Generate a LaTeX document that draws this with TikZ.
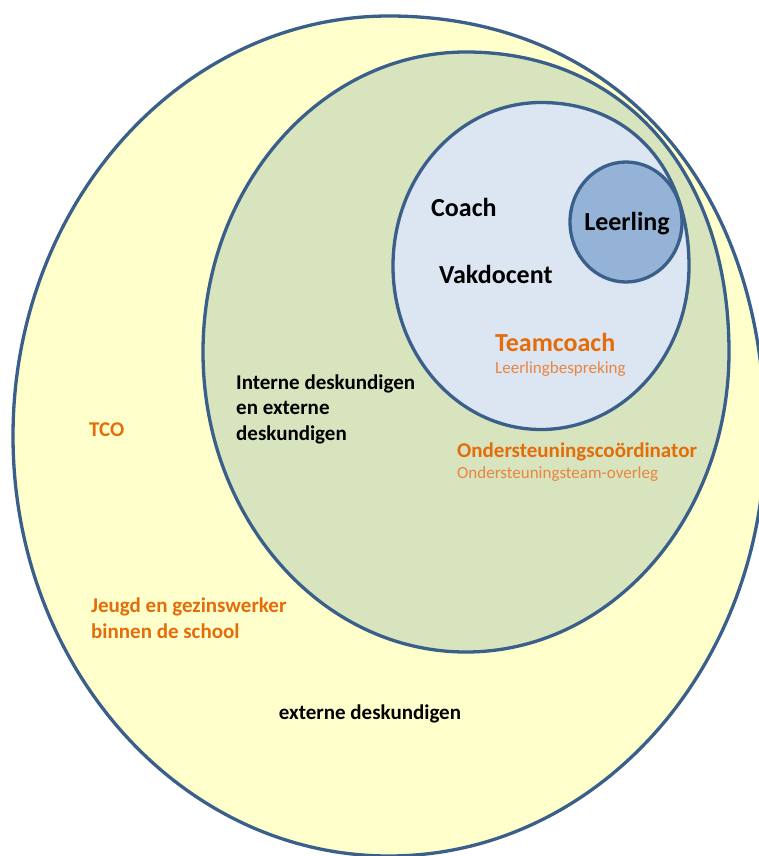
\documentclass[tikz,border=0pt]{standalone}
\usepackage{fontspec}
\setmainfont{Carlito}
\definecolor{ringline}{HTML}{3A5F8B}
\definecolor{zoneyellow}{HTML}{FFFFCC}
\definecolor{zonegreen}{HTML}{D7E4BD}
\definecolor{zonelight}{HTML}{DCE6F2}
\definecolor{zonedark}{HTML}{95B3D7}
\definecolor{labelorange}{HTML}{E46C0A}
\definecolor{sublabel}{HTML}{EA8440}
\tikzset{
  ring/.style={draw=ringline, line width=3.3pt},
  bigtext/.style={font=\fontsize{26}{31}\selectfont\bfseries, inner sep=0pt},
  midtext/.style={font=\fontsize{21}{25.5}\selectfont\bfseries, inner sep=0pt, align=left},
  subtext/.style={font=\fontsize{17}{20}\selectfont, inner sep=0pt, text=sublabel},
}
% oval with a fuller upper right quarter: style, cx, cy, rx, ry, bulge
\newcommand\ovalshape[6]{%
  \draw[#1] (#2,#3-#5) .. controls (#2+#6*#4,#3-#5) and (#2+#4,#3-#6*#5) .. (#2+#4,#3)
    .. controls (#2+#4,#3+0.5523*#5) and (#2+0.5523*#4,#3+#5) .. (#2,#3+#5)
    .. controls (#2-0.5523*#4,#3+#5) and (#2-#4,#3+0.5523*#5) .. (#2-#4,#3)
    .. controls (#2-#4,#3-0.5523*#5) and (#2-0.5523*#4,#3-#5) .. (#2,#3-#5) -- cycle;}
\begin{document}
\begin{tikzpicture}[x=1pt, y=-1pt]
      \path[use as bounding box, fill=white] (0,0) rectangle (759,856);
      % zones, from outside in
      \ovalshape{ring, fill=zoneyellow}{389}{436}{376}{420}{0.60}
      \ovalshape{ring, fill=zonegreen}{466}{352}{263}{300}{0.60}
      \ovalshape{ring, fill=zonelight}{541}{266}{148}{163.5}{0.60}
      \draw[ring, fill=zonedark] (626,222) ellipse [x radius=56, y radius=60];
      % labels
      \node[bigtext, anchor=base] (leerling) at (627,230) {Leerling};
      \node[bigtext, anchor=base west] (coach) at (431,216) {Coach};
      \node[bigtext, anchor=base west] (vakdocent) at (439,283) {Vakdocent};
      \node[bigtext, anchor=base west, text=labelorange] (teamcoach) at (495,351) {Teamcoach};
      \node[subtext, anchor=base west] (bespreking) at (495,373) {Leerlingbespreking};
      \node[midtext, anchor=base west, text=labelorange] (coordinator) at (457,457) {Ondersteuningscoördinator};
      \node[subtext, anchor=base west] (overleg) at (457,478) {Ondersteuningsteam-overleg};
      \node[midtext, anchor=west] (intern) at (236,409) {Interne deskundigen\\en externe\\deskundigen};
      \node[midtext, anchor=base west, text=labelorange] (tco) at (89,436) {TCO};
      \node[midtext, anchor=west, text=labelorange] (jeugd) at (91,618) {Jeugd en gezinswerker\\binnen de school};
      \node[midtext, anchor=base] (extern) at (370,719) {externe deskundigen};
    \end{tikzpicture}
\end{document}
